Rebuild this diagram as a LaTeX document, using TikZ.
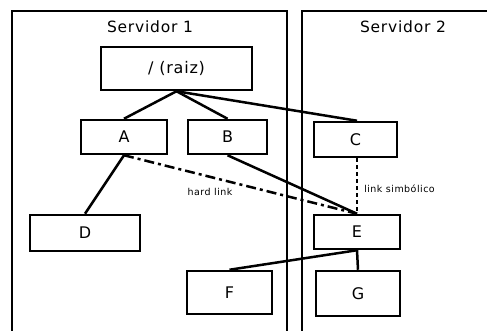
\documentclass[tikz,border=0pt]{standalone}
\usepackage{fontspec}
\setmainfont{DejaVu Sans}[LetterSpace=5]
\begin{document}
\begin{tikzpicture}[x=1pt,y=-1pt,
  line width=2.5pt,
  fbox/.style={draw, line width=2.5pt, inner sep=0pt, font=\fontsize{16}{17}\selectfont},
  srvlabel/.style={font=\fontsize{15.5}{16}\selectfont, inner sep=0pt},
  lbl/.style={font=\fontsize{9.5}{10}\selectfont, inner sep=0pt},
  hardlink/.style={dash pattern=on 10pt off 4pt on 3pt off 4pt},
  symlink/.style={dash pattern=on 4pt off 3pt}]
  \useasboundingbox (0,0) rectangle (487,331);
  \begin{scope}
    \clip (0,0) rectangle (487,331);
    % server enclosures
    \draw (12,340) -- (12,11) -- (287,11) -- (287,340);
    \draw (302,340) -- (302,11) -- (495,11);
  \end{scope}
  \node[srvlabel] (s1) at (150,27) {Servidor 1};
  \node[srvlabel] (s2) at (403,27) {Servidor 2};

  % directory nodes
  \node[fbox, minimum width=151pt, minimum height=43pt] (root) at (176.5,68.5) {/ (raiz)};
  \node[fbox, minimum width=86pt, minimum height=34pt] (A) at (124,137) {A};
  \node[fbox, minimum width=79pt, minimum height=34pt] (B) at (227.5,137) {B};
  \node[fbox, minimum width=83pt, minimum height=35pt] (C) at (355.5,139.5) {C};
  \node[fbox, minimum width=110pt, minimum height=36pt] (D) at (85,233) {D};
  \node[fbox, minimum width=86pt, minimum height=34pt] (E) at (357,232) {E};
  \node[fbox, minimum width=85pt, minimum height=43pt] (F) at (229.5,292.5) {F};
  \node[fbox, minimum width=84pt, minimum height=45pt] (G) at (358,293.5) {G};

  % tree edges
  \draw (root.south) -- (A.north);
  \draw (root.south) -- (B.north);
  \draw (root.south) -- ([xshift=1.5pt]C.north);
  \draw (A.south) -- (D.north);
  \draw (B.south) -- (E.north);
  \draw (E.south) -- (F.north);
  \draw (E.south) -- (G.north);

  % links
  \draw[hardlink] (A.south) -- (E.north);
  \draw[symlink] ([xshift=1.5pt]C.south) -- (E.north);
  \node[lbl] (hl) at (210,192) {hard link};
  \node[lbl, anchor=west] (sl) at (363,189) {link simbólico};
\end{tikzpicture}
\end{document}
